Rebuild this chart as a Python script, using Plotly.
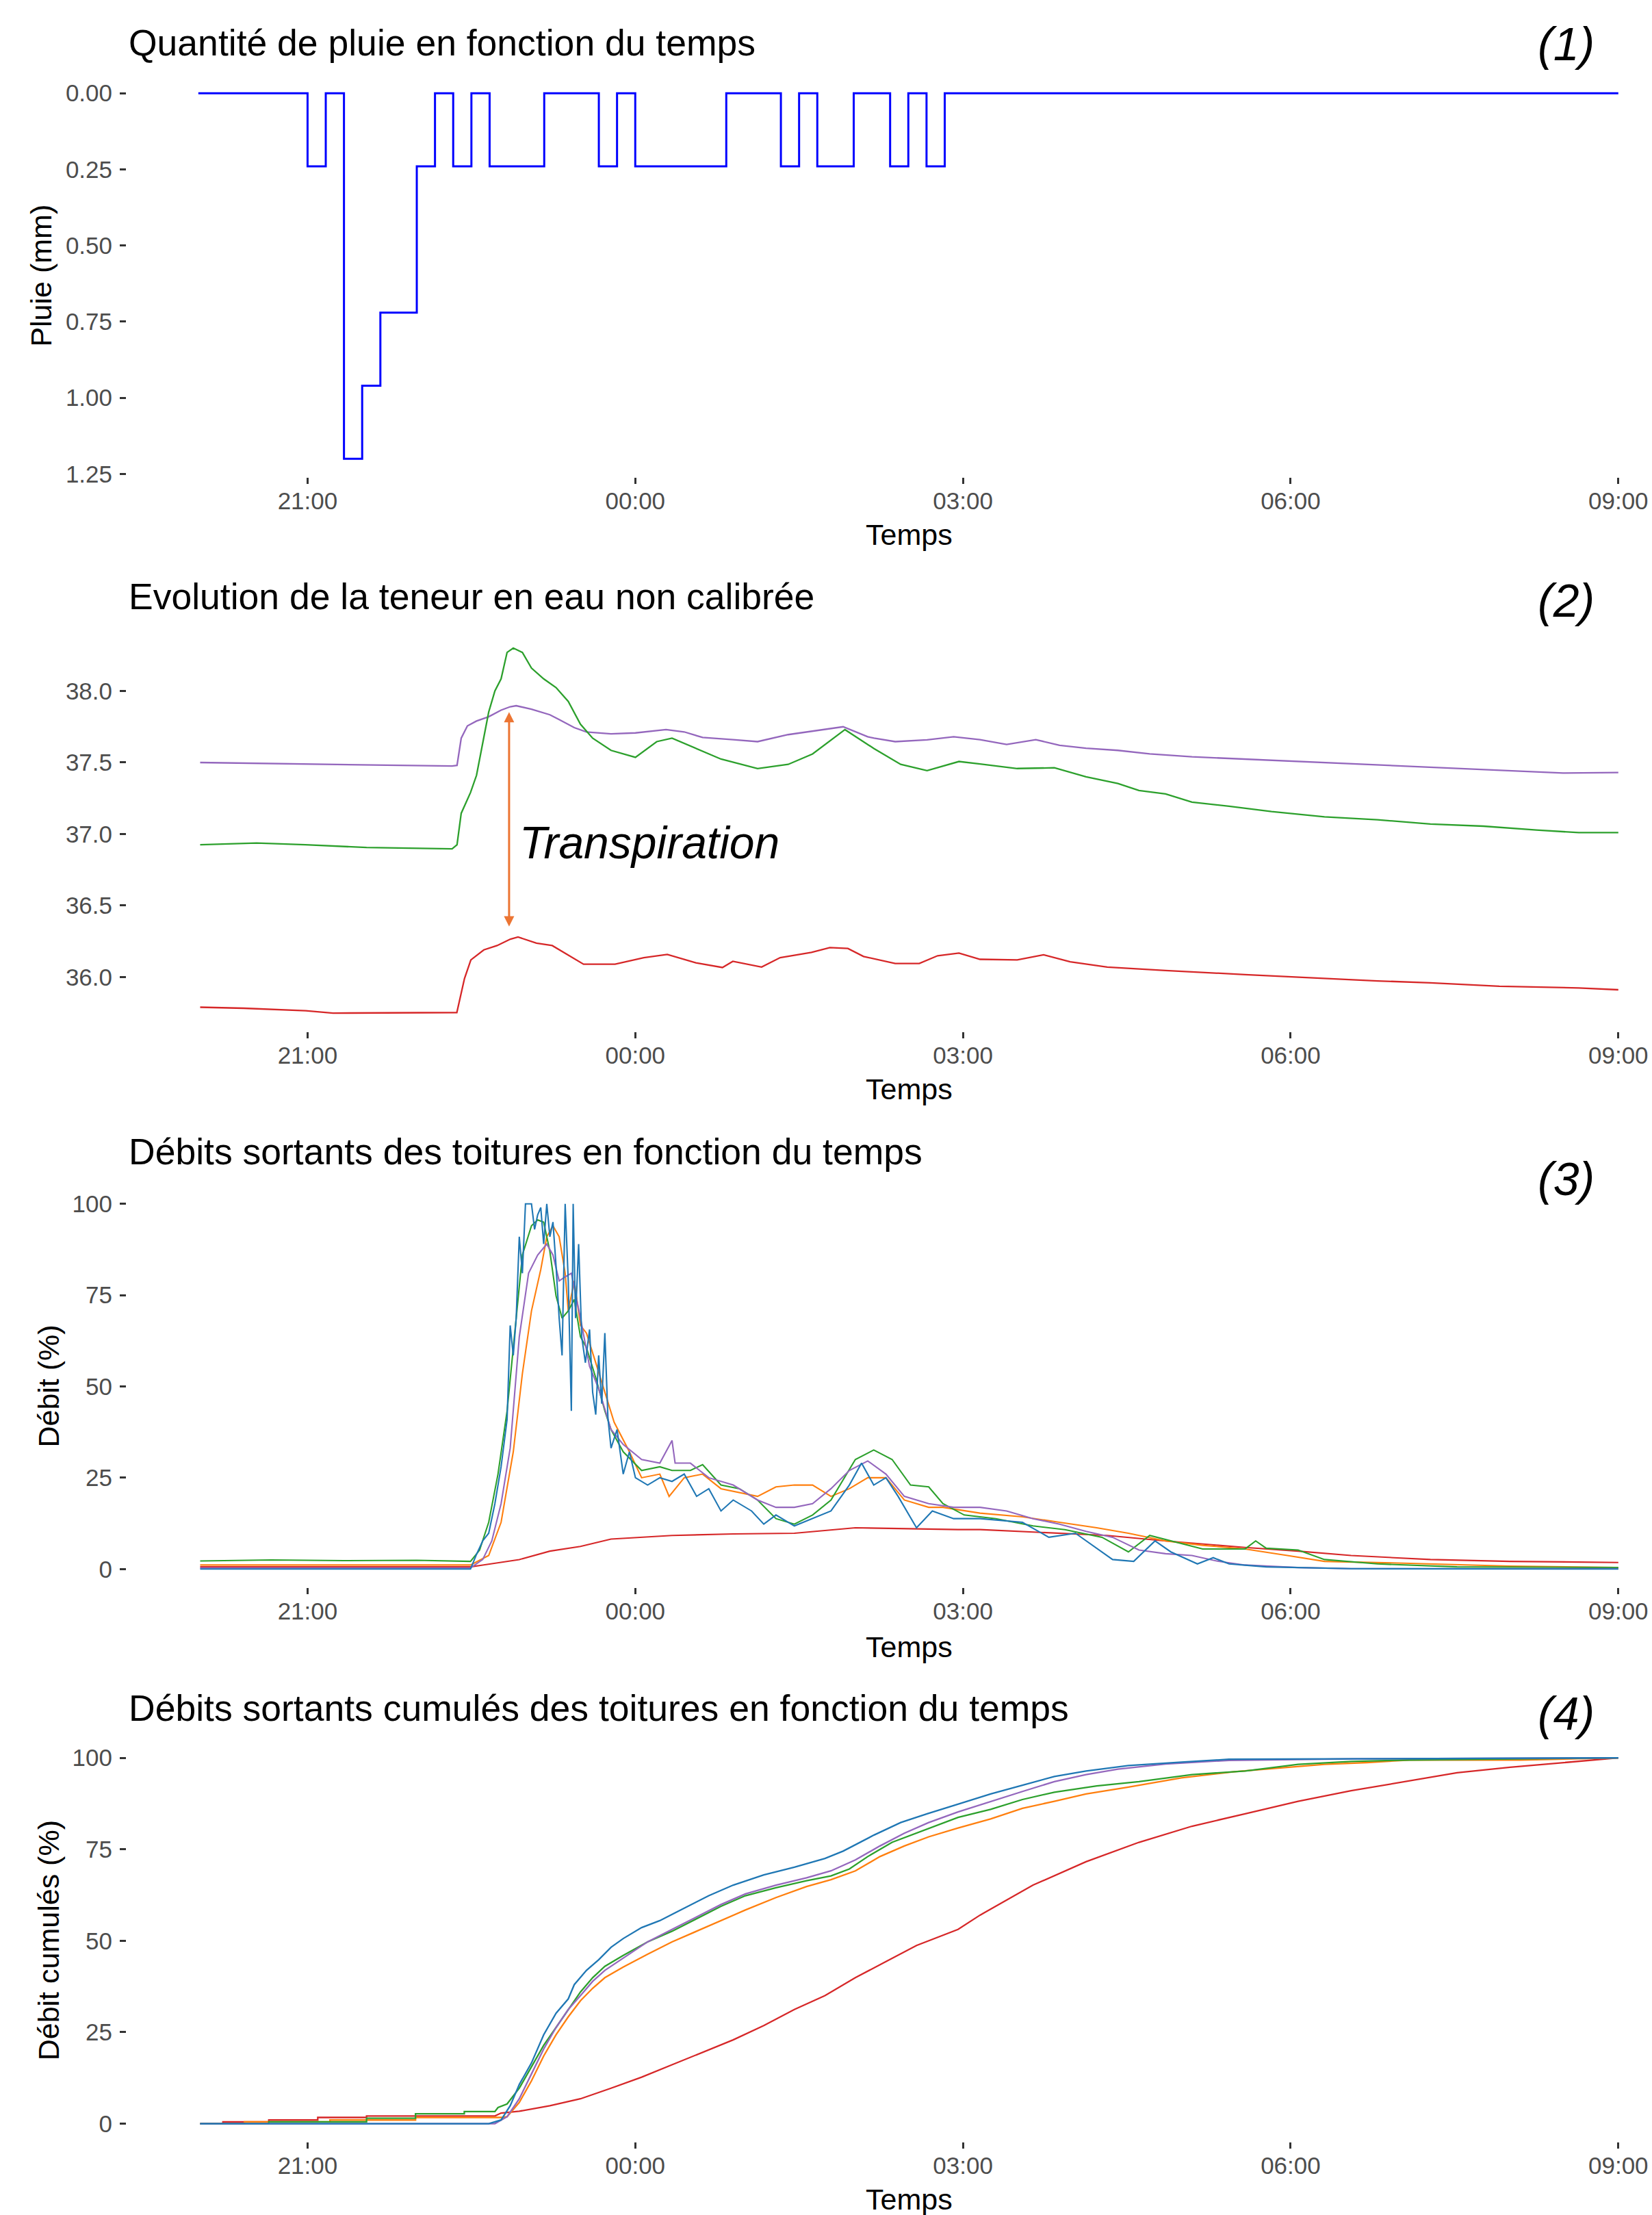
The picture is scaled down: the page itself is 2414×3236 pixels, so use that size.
import pandas as pd
import plotly.graph_objects as go

# ---------------- DATA (minutes after 20:00) ----------------
BASE = pd.Timestamp("2000-01-01 20:00")

# Panel 1 : rain, 10-minute bins starting at 20:00
rain_t = [0, 10, 20, 30, 40, 50, 60, 70, 80, 90, 100, 110, 120, 130, 140, 150, 160, 170, 180, 190,
          200, 210, 220, 230, 240, 250, 260, 270, 280, 290, 300, 310, 320, 330, 340, 350, 360, 370, 380, 390,
          400, 410, 420, 430, 440, 450, 460, 470, 480, 490, 500, 510, 520, 530, 540, 550, 560, 570, 580, 590,
          600, 610, 620, 630, 640, 650, 660, 670, 680, 690, 700, 710, 720, 730, 740, 750, 760, 770, 780]
rain_v = [0, 0, 0, 0, 0, 0, 0.24, 0, 1.2, 0.96, 0.72, 0.72, 0.24, 0, 0.24, 0, 0.24, 0.24, 0.24, 0,
          0, 0, 0.24, 0, 0.24, 0.24, 0.24, 0.24, 0.24, 0, 0, 0, 0.24, 0, 0.24, 0.24, 0, 0, 0.24, 0,
          0.24, 0, 0, 0, 0, 0, 0, 0, 0, 0, 0, 0, 0, 0, 0, 0, 0, 0, 0, 0,
          0, 0, 0, 0, 0, 0, 0, 0, 0, 0, 0, 0, 0, 0, 0, 0, 0, 0, 0]

# Panel 2 : water content (uncalibrated)
p2_purple_t = [1, 139.4, 142.1, 144.4, 147.8, 152.8, 159.5, 166.3, 171.3, 174.6, 183.0, 193.1, 198.2, 206.5,
               213.2, 226.7, 240.1, 256.9, 266.9, 277.0, 293.8, 307.2, 324.0, 340.8, 354.2, 367.7, 371.2,
               382.8, 400.3, 414.9, 429.4, 444.0, 460.0, 473.1, 487.6, 505.1, 522.6, 545.8, 575.0, 604.1,
               633.2, 662.3, 691.4, 720.5, 749.6, 780]
p2_purple_v = [37.50, 37.475, 37.48, 37.67, 37.756, 37.79, 37.82, 37.866, 37.89, 37.897, 37.873, 37.834,
               37.80, 37.744, 37.714, 37.70, 37.707, 37.73, 37.714, 37.675, 37.66, 37.646, 37.695, 37.726,
               37.75, 37.68, 37.67, 37.646, 37.658, 37.68, 37.66, 37.626, 37.66, 37.62, 37.60, 37.585,
               37.56, 37.54, 37.524, 37.507, 37.49, 37.475, 37.458, 37.443, 37.426, 37.43]
p2_green_t = [1, 32.0, 58.8, 92.4, 139.4, 142.1, 144.4, 149.5, 152.8, 156.2, 159.5, 162.9, 166.3, 169.6,
              173.0, 178.0, 183.0, 189.7, 196.5, 203.2, 209.9, 216.6, 226.7, 240.1, 251.8, 260.2, 273.7,
              287.1, 307.2, 324.0, 337.4, 355.2, 371.2, 385.8, 400.3, 417.8, 429.4, 449.8, 470.2, 487.6,
              505.1, 516.7, 531.3, 545.8, 566.2, 589.5, 618.6, 647.7, 676.8, 705.9, 735.0, 758.3, 780]
p2_green_v = [36.925, 36.937, 36.925, 36.906, 36.896, 36.925, 37.145, 37.29, 37.41, 37.634, 37.853, 38.0,
              38.085, 38.27, 38.30, 38.27, 38.16, 38.085, 38.024, 37.927, 37.768, 37.67, 37.585, 37.536,
              37.646, 37.67, 37.597, 37.524, 37.458, 37.487, 37.56, 37.73, 37.597, 37.487, 37.443, 37.507,
              37.49, 37.458, 37.463, 37.40, 37.353, 37.304, 37.28, 37.223, 37.194, 37.157, 37.12, 37.10,
              37.07, 37.055, 37.028, 37.01, 37.01]
p2_red_t = [1, 25, 59, 74, 142, 144, 146.2, 149.7, 156.8, 164.1, 171.4, 175.6, 185.7, 194.4, 204.4, 211.6,
            228.9, 244.7, 257.6, 273.3, 287.9, 293.6, 309.4, 319.6, 336.8, 346.9, 356.8, 365.4, 382.8, 396.0,
            406.1, 417.8, 429.4, 449.8, 464.3, 478.9, 499.3, 531.3, 575.0, 618.6, 647.7, 676.8, 714.7,
            758.3, 780]
p2_red_v = [35.789, 35.782, 35.765, 35.748, 35.752, 35.862, 35.99, 36.12, 36.19, 36.22, 36.265, 36.28,
            36.237, 36.22, 36.146, 36.09, 36.09, 36.136, 36.158, 36.10, 36.067, 36.11, 36.07, 36.136,
            36.173, 36.206, 36.20, 36.144, 36.095, 36.095, 36.149, 36.168, 36.124, 36.12, 36.156, 36.107,
            36.07, 36.046, 36.017, 35.992, 35.973, 35.96, 35.936, 35.924, 35.911]

# Panel 3 : roof outflow (%)
p3_blue_t = [1, 149.5, 152.8, 156.2, 159.5, 162.9, 166.3, 169.6, 171.3, 173.0, 174.6, 176.3, 178.0, 179.7,
             183.0, 184.7, 186.4, 188.1, 189.7, 191.4, 193.1, 194.8, 196.5, 198.2, 199.8, 201.5, 203.2,
             204.9, 205.9, 207.2, 208.9, 210.6, 212.6, 214.9, 216.6, 218.3, 219.9, 221.6, 223.3, 225.0,
             226.7, 230.0, 233.4, 236.8, 240.1, 246.8, 253.5, 260.2, 266.9, 273.7, 280.4, 287.1, 293.8,
             303.9, 310.6, 317.3, 327.4, 337.4, 347.5, 357.6, 364.3, 371.0, 377.7, 384.4, 394.5, 403.2,
             414.9, 429.4, 452.7, 467.2, 481.8, 502.2, 513.8, 525.5, 534.2, 548.8, 557.5, 566.2, 586.6,
             633.2, 780]
p3_blue_v = [0, 0, 4, 7.7, 9.8, 17.9, 28, 41, 66.7, 58.5, 68.7, 91, 81, 100, 100, 93, 97, 99, 89, 100,
             91, 95, 83, 68.7, 58.5, 100, 78.9, 43.3, 100, 68.7, 89, 63.6, 56.5, 65.6, 48.4, 42.3, 58.5,
             45.3, 64.6, 41.3, 33.1, 38.2, 26, 32.1, 25, 23, 25, 24, 26, 19.9, 22, 15.9, 18.9, 15.9, 12.3,
             14.8, 11.8, 13.8, 15.9, 23, 29, 23, 25, 19.9, 11.3, 15.9, 13.8, 13.8, 12.8, 8.7, 9.8, 2.6,
             2.1, 7.7, 4.7, 1.4, 3.1, 1.4, 0.6, 0.1, 0]
p3_green_t = [1, 40, 80, 120, 149.5, 154.5, 159.5, 164.6, 169.6, 174.6, 178.0, 183.0, 186.4, 189.7, 193.1,
              196.5, 199.8, 203.2, 206.5, 209.9, 213.2, 218.3, 223.3, 226.7, 233.4, 243.5, 253.5, 260.2,
              270.3, 277.0, 287.1, 297.2, 307.2, 317.3, 327.4, 337.4, 347.5, 360.9, 371.0, 381.1, 391.2,
              401.2, 409.0, 420.7, 438.1, 458.5, 476.0, 496.4, 510.9, 522.6, 534.2, 551.7, 575.0, 580.8,
              586.6, 604.1, 618.6, 647.7, 691.4, 780]
p3_green_v = [2.2, 2.5, 2.3, 2.4, 2.1, 5.2, 12.8, 26, 43.3, 68.7, 86, 94, 95.6, 95, 87, 74.8, 68.7, 70.7,
              73.8, 63.6, 60.6, 52.4, 43.3, 38.2, 32.1, 27, 28, 27, 27, 28.6, 23, 22, 18.9, 13.8, 12.3,
              14.8, 18.9, 30, 32.6, 30, 23, 22.5, 17.9, 14.8, 13.8, 11.8, 10.8, 8.7, 4.7, 9.2, 7.7, 5.5,
              5.5, 7.7, 5.7, 5.2, 2.6, 1.4, 0.6, 0.4]
p3_purple_t = [1, 149.5, 156.2, 161.2, 166.3, 171.3, 176.3, 181.4, 186.4, 191.4, 194.8, 198.2, 201.5, 204.9,
               209.9, 214.9, 219.9, 226.7, 233.4, 243.5, 253.5, 260.2, 261.9, 270.3, 280.4, 293.8, 307.2,
               317.3, 327.4, 337.4, 347.5, 357.6, 367.7, 377.7, 387.8, 401.2, 414.9, 429.4, 444.0, 458.5,
               473.1, 487.6, 502.2, 516.7, 531.3, 545.8, 560.4, 575.0, 604.1, 633.2, 780]
p3_purple_v = [0.3, 0.3, 2.6, 7.7, 17.9, 33.1, 63.6, 81, 86, 89, 86, 78.9, 80, 81, 68.7, 55.5, 49.4, 38.2,
               34.1, 30, 29, 35.2, 29, 29, 25, 23, 18.9, 16.9, 16.9, 17.9, 22, 27, 29.6, 26, 19.9, 17.9,
               16.9, 16.9, 15.9, 13.8, 12.3, 10.3, 8.7, 5.2, 4.2, 3.7, 2.1, 1.1, 0.4, 0.1, 0.1]
p3_orange_t = [1, 149.5, 159.5, 166.3, 173.0, 178.0, 183.0, 188.1, 191.4, 194.8, 198.2, 201.5, 203.2, 206.5,
               209.9, 213.2, 218.3, 223.3, 228.4, 236.8, 243.5, 253.5, 258.6, 266.9, 277.0, 287.1, 297.2,
               307.2, 317.3, 327.4, 337.4, 347.5, 357.6, 367.7, 377.7, 387.8, 401.2, 409.0, 429.4, 452.7,
               473.1, 493.5, 510.9, 531.3, 551.7, 575.0, 598.2, 618.6, 662.3, 720.5, 780]
p3_orange_v = [1.1, 1.1, 3.7, 12.8, 32.1, 53.5, 70.7, 82, 91, 94, 91, 81, 70.7, 78.9, 66.7, 64.6, 56.5, 48.4,
               40.2, 32.1, 25, 26, 19.9, 25, 26, 22, 20.9, 19.9, 22.5, 23, 23, 19.9, 22, 25, 25, 18.9, 16.9,
               16.9, 15.3, 14.3, 12.8, 11.3, 9.8, 7.7, 6.5, 5.5, 3.7, 2.1, 1.6, 0.8, 0.4]
p3_red_t = [1, 149.5, 156.2, 176.3, 193.1, 209.9, 226.7, 243.5, 260.2, 293.8, 327.4, 360.9, 388.7, 417.3,
            429.4, 464.3, 499.3, 531.3, 575.0, 604.1, 633.2, 676.8, 720.5, 780]
p3_red_v = [0.6, 0.6, 1.1, 2.6, 4.9, 6.2, 8.2, 8.7, 9.2, 9.6, 9.8, 11.3, 11.0, 10.8, 10.8, 10.0, 9.2, 7.7,
            5.9, 4.9, 3.7, 2.6, 2.1, 1.8]

# Panel 4 : cumulative roof outflow (%)
p4_blue_t = [1, 159.5, 166.3, 171.3, 176.3, 183.0, 189.7, 196.5, 203.2, 206.5, 213.2, 219.9, 226.7, 233.4,
             243.5, 253.5, 266.9, 280.4, 293.8, 310.6, 327.4, 344.2, 354.2, 371.2, 385.8, 400.3, 417.8,
             435.2, 452.7, 470.2, 487.6, 510.9, 540.0, 566.2, 780]
p4_blue_v = [0, 0, 1, 4.9, 10.7, 16.6, 24.3, 30.2, 34.1, 38, 41.9, 44.8, 48.2, 50.6, 53.6, 55.5, 58.9, 62.3,
             65.2, 68, 70.1, 72.5, 74.5, 78.9, 82.3, 84.7, 87.4, 90.1, 92.5, 94.9, 96.4, 97.9, 98.8, 99.6, 100]
p4_purple_t = [1, 162.9, 169.6, 176.3, 183.0, 189.7, 196.5, 203.2, 209.9, 216.6, 223.3, 233.4, 246.8, 260.2,
               273.7, 287.1, 300.5, 317.3, 334.1, 347.5, 360.9, 374.4, 387.8, 401.2, 417.3, 435.2, 452.7,
               470.2, 487.6, 505.1, 531.3, 566.2, 633.2, 780]
p4_purple_v = [0, 0, 1.9, 6.8, 13.6, 20.4, 26.3, 31.2, 35, 38.9, 41.9, 45.3, 49.7, 53.1, 56.5, 59.9, 62.8,
               65.2, 67.2, 69.1, 72.1, 75.9, 79.4, 82.3, 85.2, 88.1, 90.8, 93.5, 95.4, 96.9, 98.3, 99.3, 99.7, 100]
p4_green_t = [1, 38.7, 38.7, 92.4, 92.4, 119.3, 119.3, 146.1, 146.1, 162.9, 164.6, 169.6, 176.3, 183.0,
              189.7, 196.5, 203.2, 209.9, 216.6, 223.3, 233.4, 246.8, 260.2, 273.7, 287.1, 300.5, 317.3,
              334.1, 347.5, 357.6, 367.7, 381.1, 394.5, 417.3, 435.2, 452.7, 470.2, 493.5, 516.7, 545.8,
              575.0, 604.1, 633.2, 665.2, 780]
p4_green_v = [0, 0, 0.5, 0.5, 1.5, 1.5, 2.7, 2.7, 3.3, 3.3, 4.4, 5.4, 9.7, 15.6, 21.4, 26.3, 31.2, 36, 39.9,
              43, 46, 49.7, 52.6, 56, 59.4, 62.3, 64.5, 66.4, 67.7, 69.6, 73, 76.9, 79.4, 83.7, 85.9, 88.6,
              90.6, 92.3, 93.5, 95.4, 96.4, 98.2, 99, 99.4, 100]
p4_orange_t = [1, 25.3, 25.3, 72.3, 72.3, 119.3, 119.3, 166.3, 169.6, 176.3, 183.0, 189.7, 196.5, 203.2,
               209.9, 216.6, 223.3, 233.4, 246.8, 260.2, 273.7, 287.1, 300.5, 317.3, 334.1, 347.5, 360.9,
               374.4, 387.8, 401.2, 417.3, 435.2, 452.7, 470.2, 487.6, 510.9, 540.0, 569.1, 595.3, 618.6,
               641.9, 665.2, 726.3, 780]
p4_orange_v = [0, 0, 0.5, 0.5, 1.0, 1.0, 1.7, 1.7, 1.9, 5.8, 11.7, 18.5, 24.3, 29.2, 33.6, 37, 39.9, 42.8,
               46.3, 49.7, 52.6, 55.5, 58.4, 61.8, 64.8, 66.7, 69.1, 73, 75.9, 78.4, 80.8, 83.3, 86.2, 88.1,
               90.1, 92, 94.5, 96.2, 97.2, 98.2, 98.7, 99.4, 99.4, 100]
p4_red_t = [1, 13.5, 13.5, 38.7, 38.7, 65.6, 65.6, 92.4, 92.4, 162.9, 166.3, 176.3, 193.1, 209.9, 226.7,
            243.5, 260.2, 277.0, 293.8, 310.6, 327.4, 344.2, 360.9, 377.7, 394.5, 417.3, 429.4, 458.5,
            487.6, 516.7, 545.8, 575.0, 604.1, 633.2, 662.3, 691.4, 720.5, 749.6, 780]
p4_red_v = [0, 0, 0.5, 0.5, 1.0, 1.0, 1.7, 1.7, 2.1, 2.1, 2.9, 3.4, 4.9, 6.8, 9.7, 12.7, 16.1, 19.5, 22.9,
            26.8, 31.2, 35, 39.9, 44.3, 48.7, 53.1, 57.0, 65.2, 71.6, 76.9, 81.3, 84.7, 88.1, 91, 93.5,
            95.9, 97.4, 98.7, 100]

# Tick labels
x_tick_min = [60, 240, 420, 600, 780]
x_tick_txt = ["21:00", "00:00", "03:00", "06:00", "09:00"]
y1_ticks = [0, 0.25, 0.5, 0.75, 1.0, 1.25]
y1_txt = ["0.00", "0.25", "0.50", "0.75", "1.00", "1.25"]
y2_ticks = [36.0, 36.5, 37.0, 37.5, 38.0]
y2_txt = ["36.0", "36.5", "37.0", "37.5", "38.0"]
y34_ticks = [0, 25, 50, 75, 100]
y34_txt = ["0", "25", "50", "75", "100"]

titles = ["Quantité de pluie en fonction du temps",
          "Evolution de la teneur en eau non calibrée",
          "Débits sortants des toitures en fonction du temps",
          "Débits sortants cumulés des toitures en fonction du temps"]

# ---------------- STYLE / LAYOUT ----------------
W, H = 2414, 3236
KY = 3236 / 3252  # vertical squeeze observed in the captured page
FONT = "Liberation Sans, Arial, sans-serif"
C_BLUE, C_ORANGE, C_GREEN, C_RED, C_PURPLE = "#1F77B4", "#FF7F0E", "#2CA02C", "#D62728", "#9467BD"


def T(mins):
    return [BASE + pd.Timedelta(minutes=float(m)) for m in mins]


def px(x):
    return x / W


def py(y):
    return 1 - y / (KY * H)


fig = go.Figure()


def add(t, v, color, width, k, shape="linear"):
    fig.add_trace(go.Scatter(x=T(t), y=v, mode="lines",
                             line=dict(color=color, width=width, shape=shape),
                             xaxis="x" if k == 1 else f"x{k}",
                             yaxis="y" if k == 1 else f"y{k}",
                             hoverinfo="skip", showlegend=False))


add(rain_t, rain_v, "#0000FF", 3, 1, shape="hv")
add(p2_purple_t, p2_purple_v, C_PURPLE, 2.3, 2)
add(p2_green_t, p2_green_v, C_GREEN, 2.3, 2)
add(p2_red_t, p2_red_v, C_RED, 2.3, 2)
for (t, v, c) in [(p3_red_t, p3_red_v, C_RED), (p3_orange_t, p3_orange_v, C_ORANGE),
                  (p3_green_t, p3_green_v, C_GREEN), (p3_purple_t, p3_purple_v, C_PURPLE),
                  (p3_blue_t, p3_blue_v, C_BLUE)]:
    add(t, v, c, 2.1, 3)
for (t, v, c) in [(p4_red_t, p4_red_v, C_RED), (p4_orange_t, p4_orange_v, C_ORANGE),
                  (p4_green_t, p4_green_v, C_GREEN), (p4_purple_t, p4_purple_v, C_PURPLE),
                  (p4_blue_t, p4_blue_v, C_BLUE)]:
    add(t, v, c, 2.3, 4)

x_range = [BASE + pd.Timedelta(minutes=-39.4), BASE + pd.Timedelta(minutes=798.5)]
x_dom = [185 / W, 1.0]
# panel top/bottom pixel rows
panels = [(109.5, 696.75), (919.4, 1506.4), (1731.6, 2318.3), (2540.6, 3128.4)]
y_ranges = [[1.26, -0.06], [35.62, 38.43], [-5, 105], [-5, 105]]
y_ticks = [(y1_ticks, y1_txt), (y2_ticks, y2_txt), (y34_ticks, y34_txt), (y34_ticks, y34_txt)]

tickfont = dict(family=FONT, size=35, color="#4D4D4D")
layout = dict(width=W, height=H, margin=dict(l=0, r=0, t=0, b=0, pad=0),
              paper_bgcolor="white", plot_bgcolor="white", showlegend=False,
              font=dict(family=FONT))
for k in range(1, 5):
    top, bot = panels[k - 1]
    xs = "xaxis" if k == 1 else f"xaxis{k}"
    ys = "yaxis" if k == 1 else f"yaxis{k}"
    layout[xs] = dict(domain=x_dom, anchor="y" if k == 1 else f"y{k}", type="date",
                      range=x_range, tickmode="array", tickvals=T(x_tick_min), ticktext=x_tick_txt,
                      ticks="outside", ticklen=9, tickwidth=2.5, tickcolor="#333333",
                      showgrid=False, zeroline=False, showline=False,
                      tickfont=tickfont, ticklabelstandoff=-5, fixedrange=True)
    layout[ys] = dict(domain=[py(bot), py(top)], anchor="x" if k == 1 else f"x{k}",
                      range=y_ranges[k - 1], tickmode="array",
                      tickvals=y_ticks[k - 1][0], ticktext=y_ticks[k - 1][1],
                      ticks="outside", ticklen=9, tickwidth=2.5, tickcolor="#333333",
                      showgrid=False, zeroline=False, showline=False,
                      tickfont=tickfont, ticklabelstandoff=4, fixedrange=True)

ann = []
title_y = [62, 871, 1682, 2495]
label_y = [64, 877, 1722, 2502]
temps_y = [781, 1591, 2405, 3212]
for k in range(4):
    ann.append(dict(text=titles[k], x=px(186), y=py(title_y[k]), xref="paper", yref="paper",
                    xanchor="left", yanchor="middle", showarrow=False,
                    font=dict(family=FONT, size=53.5, color="black")))
    ann.append(dict(text=f"<i>({k + 1})</i>", x=px(2288), y=py(label_y[k]), xref="paper", yref="paper",
                    xanchor="center", yanchor="middle", showarrow=False,
                    font=dict(family=FONT, size=68, color="black")))
    ann.append(dict(text="Temps", x=px(1328), y=py(temps_y[k]), xref="paper", yref="paper",
                    xanchor="center", yanchor="middle", showarrow=False,
                    font=dict(family=FONT, size=43, color="black")))
for (txt, xc, yc) in [("Pluie (mm)", 60.5, 403), ("Débit (%)", 71, 2025), ("Débit cumulés (%)", 71, 2834.5)]:
    ann.append(dict(text=txt, x=px(xc), y=py(yc), xref="paper", yref="paper", textangle=-90,
                    xanchor="center", yanchor="middle", showarrow=False,
                    font=dict(family=FONT, size=43, color="black")))

# Transpiration annotation + double arrow
ann.append(dict(text="<i>Transpiration</i>", x=px(757), y=py(1231), xref="paper", yref="paper",
                xanchor="left", yanchor="middle", showarrow=False,
                font=dict(family=FONT, size=66, color="black")))
arrow_t = BASE + pd.Timedelta(minutes=170.7)
ann.append(dict(text="", x=arrow_t, y=37.853, xref="x2", yref="y2",
                ax=arrow_t, ay=36.347, axref="x2", ayref="y2",
                showarrow=True, arrowside="end+start", arrowhead=2, startarrowhead=2,
                arrowsize=1, startarrowsize=1, arrowwidth=3, arrowcolor="#EC7533", standoff=0,
                startstandoff=0))
layout["annotations"] = ann

fig.update_layout(**layout)
fig.write_html("out.html", config={"displayModeBar": False},
               post_script="document.body.style.margin='0';"
                           "document.body.style.overflow='hidden';"
                           "document.documentElement.style.overflow='hidden';")
